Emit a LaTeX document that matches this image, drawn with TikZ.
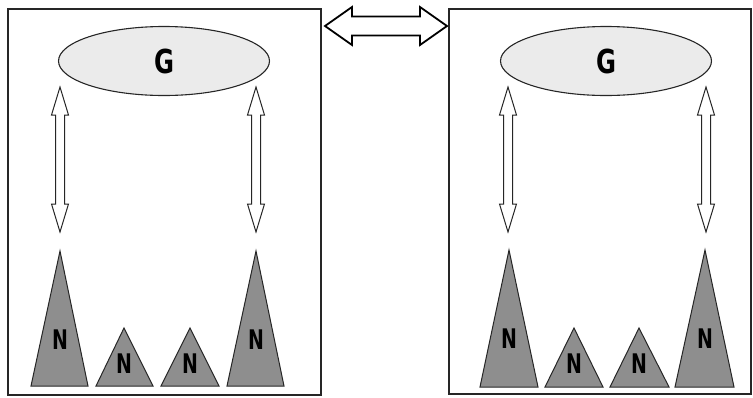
\documentclass[tikz,border=0pt]{standalone}
\usepackage{fontspec}
\setmainfont{Liberation Sans}
\newfontfamily\heavy{DejaVu Sans Condensed}[BoldFont={DejaVu Sans Condensed Bold}]
\usetikzlibrary{shapes.geometric,calc}
\definecolor{ellfill}{HTML}{EBEBEB}
\definecolor{trifill}{HTML}{8E8E8E}
\tikzset{
  panel/.style={draw=black!85, line width=1.2pt},
  gnode/.style={ellipse, draw=black!85, line width=1.1pt, fill=ellfill, minimum width=211pt, minimum height=69pt, inner sep=0pt},
  tri/.style={draw=black!85, line width=1pt, fill=trifill},
  lbl/.style={inner sep=0pt},
  varrow/.style={draw=black!85, line width=1pt, fill=white, line join=miter},
  harrow/.style={draw=black, line width=1.8pt, fill=white, line join=miter}
}
\newcommand{\Gtxt}{\scalebox{0.82}[1]{\fontsize{33}{33}\selectfont\heavy\bfseries G}}
\newcommand{\Ntxt}{\scalebox{0.78}[1]{\fontsize{27}{27}\selectfont\heavy\bfseries N}}
% vertical fat double arrow: x, top tip y, bottom tip y
\newcommand{\vfat}[3]{%
  \draw[varrow] (#1,#2) -- (#1+8.5,#2+28) -- (#1+4.5,#2+28) -- (#1+4.5,#3-28)
    -- (#1+8.5,#3-28) -- (#1,#3) -- (#1-8.5,#3-28) -- (#1-4.5,#3-28)
    -- (#1-4.5,#2+28) -- (#1-8.5,#2+28) -- cycle;}
\begin{document}
\begin{tikzpicture}[x=1pt,y=-1pt]
\useasboundingbox (0,0) rectangle (753,397);
% panels
\draw[panel] (8,9) rectangle (321,395);
\draw[panel] (449,9) rectangle (751,394);
\coordinate (hl) at (325,26);
\coordinate (hr) at (447,26);
% horizontal arrow between panels
\draw[harrow] (hl) -- ++(27,-19) -- ++(0,9.5) -- ($(hr)+(-27,-9.5)$) -- ++(0,-9.5) -- (hr)
  -- ++(-27,19) -- ++(0,-9.5) -- ($(hl)+(27,9.5)$) -- ++(0,9.5) -- cycle;
% left panel
\node[gnode] (gl) at (164,61) {};
\node[lbl] (gltxt) at (164,61) {\Gtxt};
\draw[tri] (60,251) -- (88,386) -- (31,386) -- cycle;
\draw[tri] (124,328) -- (153,386) -- (96,386) -- cycle;
\draw[tri] (190,328) -- (219,386) -- (161,386) -- cycle;
\draw[tri] (256,251) -- (284,386) -- (227,386) -- cycle;
\node[lbl] (ln1) at (60,340) {\Ntxt};
\node[lbl] (ln2) at (124,364) {\Ntxt};
\node[lbl] (ln3) at (190,364) {\Ntxt};
\node[lbl] (ln4) at (256,340) {\Ntxt};
\vfat{60}{87}{232}
\vfat{256}{87}{232}
% right panel
\node[gnode] (gr) at (606,61) {};
\node[lbl] (grtxt) at (606,61) {\Gtxt};
\draw[tri] (509,250) -- (538,387) -- (480,387) -- cycle;
\draw[tri] (574,328) -- (603,387) -- (545,387) -- cycle;
\draw[tri] (639,328) -- (669,387) -- (610,387) -- cycle;
\draw[tri] (705,250) -- (734,387) -- (675,387) -- cycle;
\node[lbl] (rn1) at (509,339) {\Ntxt};
\node[lbl] (rn2) at (574,364) {\Ntxt};
\node[lbl] (rn3) at (639,364) {\Ntxt};
\node[lbl] (rn4) at (705,339) {\Ntxt};
\vfat{508}{87}{232}
\vfat{706}{87}{232}
\end{tikzpicture}
\end{document}
